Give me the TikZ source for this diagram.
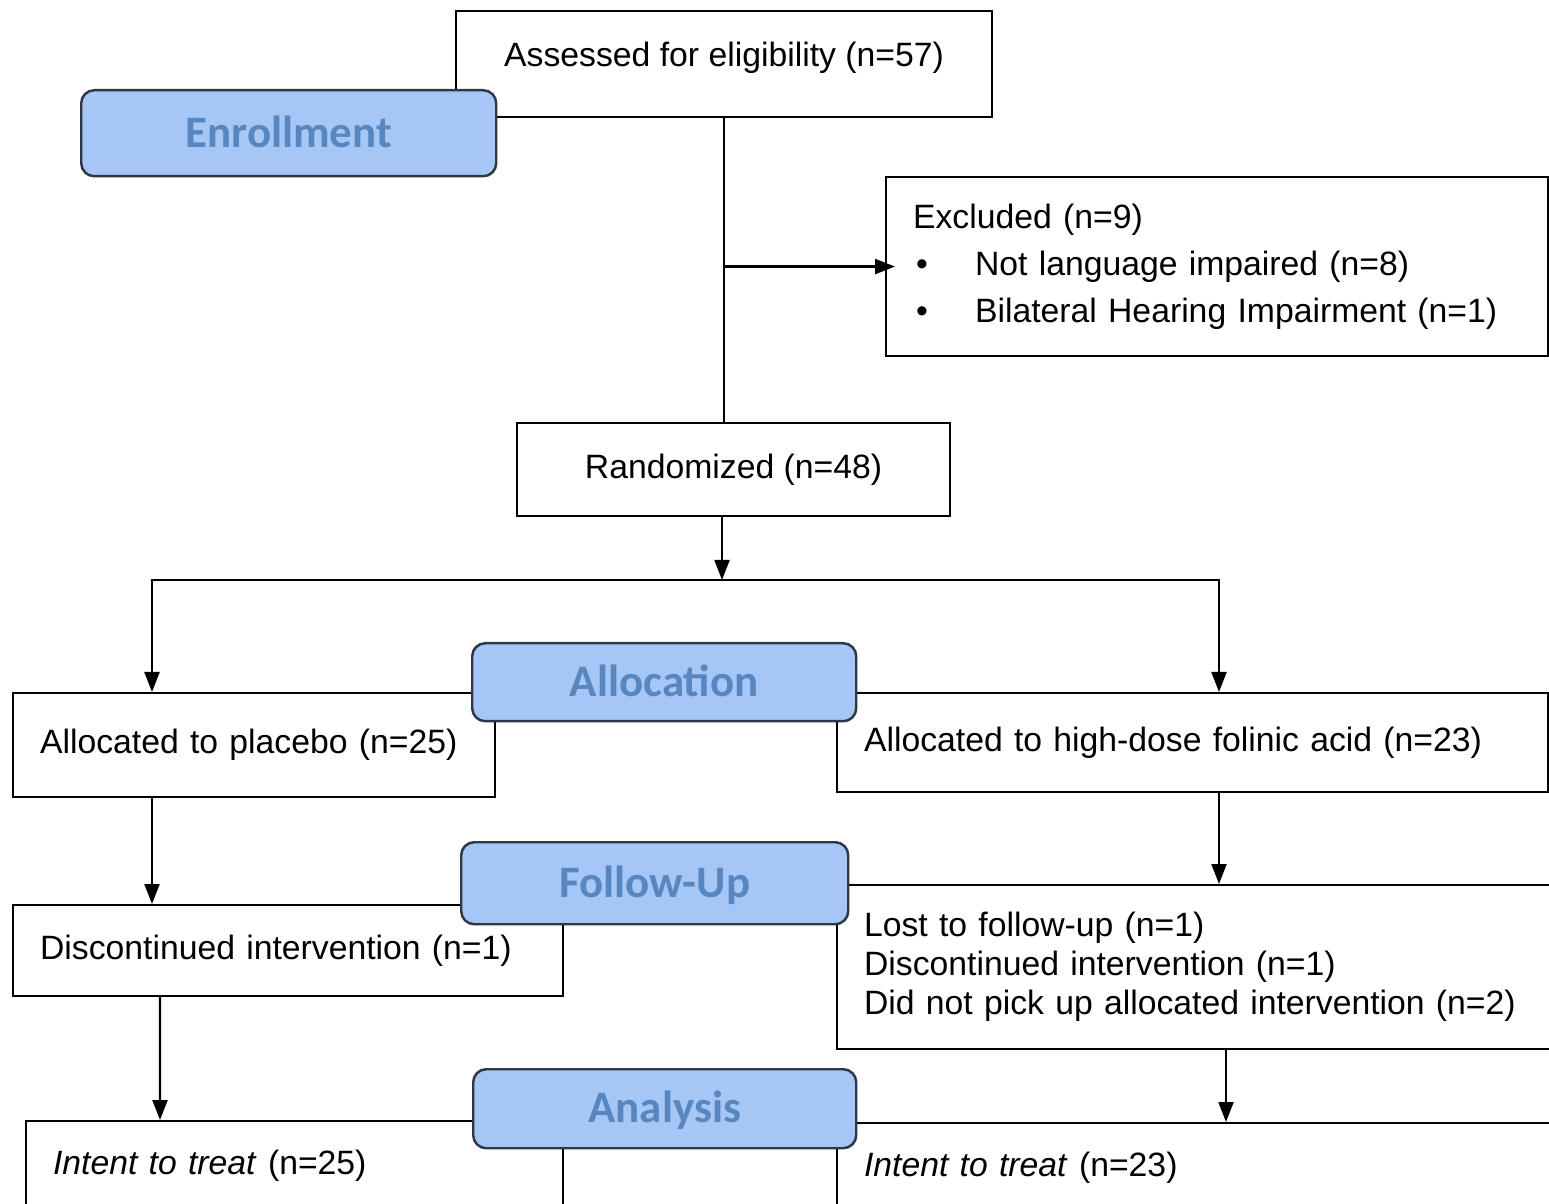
\documentclass[tikz,border=0pt]{standalone}
\usepackage{fontspec}
\setmainfont{Liberation Sans}
\newfontfamily\hdrfont{Carlito}
\usetikzlibrary{arrows.meta,positioning}
\definecolor{hdrfill}{RGB}{166,198,245}
\definecolor{hdrtext}{RGB}{88,134,192}
\definecolor{hdrline}{RGB}{45,55,70}
\newcommand{\bul}{\makebox[0.62cm][l]{\hspace{0.03cm}\textbullet}}

\begin{document}
\begin{tikzpicture}[
    font=\fontsize{9.6pt}{11.6pt}\selectfont,
    box/.style={draw, line width=0.6pt, anchor=north west, inner xsep=0.27cm, align=left},
    hdr/.style={draw=hdrline, line width=0.7pt, fill=hdrfill, rounded corners=0.13cm, anchor=north west,
        text=hdrtext, text height=0.30cm, text depth=0.02cm,
        font=\hdrfont\bfseries\fontsize{12.8pt}{14pt}\selectfont},
    arr/.style={-{Triangle[length=0.2cm,width=0.15cm]}, line width=0.6pt}
]
\clip (0,0) rectangle (15.49,-12.04);

% Enrollment
\node[box, minimum width=5.36cm, minimum height=1.06cm, align=center, text depth=0.2cm] (assess) at (4.55,-0.10) {Assessed for eligibility (n=57)};
\node[box, text width=6.08cm, minimum height=1.79cm, font=\fontsize{9.6pt}{13.4pt}\selectfont] (excl) at (8.85,-1.76)
    {Excluded (n=9)\\\bul Not language impaired (n=8)\\\bul Bilateral Hearing Impairment (n=1)};
\node[box, minimum width=4.33cm, minimum height=0.93cm, align=center] (rand) at (5.16,-4.22) {Randomized (n=48)};

% Allocation
\node[box, text width=4.28cm, minimum height=1.04cm] (placebo) at (0.12,-6.92) {Allocated to placebo (n=25)};
\node[box, text width=6.57cm, minimum height=0.99cm] (folinic) at (8.36,-6.92) {Allocated to high-dose folinic acid (n=23)};

% Follow-up
\node[box, text width=4.96cm, minimum height=0.91cm] (discp) at (0.12,-9.04) {Discontinued intervention (n=1)};
\node[box, text width=6.8cm, minimum height=1.64cm, font=\fontsize{9.6pt}{11.1pt}\selectfont] (lostf) at (8.36,-8.84)
    {Lost to follow-up (n=1)\\Discontinued intervention (n=1)\\Did not pick up allocated intervention (n=2)};

% Analysis
\node[box, text width=4.83cm, minimum height=0.9cm] (ittp) at (0.25,-11.20) {\textit{Intent to treat} (n=25)};
\node[box, text width=6.8cm, minimum height=0.9cm] (ittf) at (8.36,-11.22) {\textit{Intent to treat} (n=23)};

% connectors
\coordinate (split) at (7.22,-5.80);
\draw[line width=0.6pt] (assess.south) -- (assess.south |- rand.north);
\draw[arr] (assess.south |- excl.west) -- ([xshift=0.1cm]excl.west);
\draw[arr] (rand.south -| split) -- (split);
\draw[arr] (split) -| ([xshift=1.40cm]placebo.north west);
\draw[arr] (split) -| ([xshift=3.83cm]folinic.north west);
\draw[arr] ([xshift=1.40cm]placebo.south west) -- ([xshift=1.40cm]discp.north west);
\draw[arr] ([xshift=3.83cm]folinic.south west) -- ([xshift=3.83cm]lostf.north west);
\draw[arr] ([xshift=1.48cm]discp.south west) -- ([xshift=1.35cm]ittp.north west);
\draw[arr] ([xshift=3.90cm]lostf.south west) -- ([xshift=3.90cm]ittf.north west);

% stage headers
\node[hdr, minimum width=4.15cm, minimum height=0.86cm] (enroll) at (0.80,-0.89) {Enrollment};
\node[hdr, minimum width=3.84cm, minimum height=0.78cm] (alloc) at (4.71,-6.42) {Allocation};
\node[hdr, minimum width=3.87cm, minimum height=0.82cm] (follow) at (4.60,-8.41) {Follow-Up};
\node[hdr, minimum width=3.83cm, minimum height=0.79cm] (analys) at (4.72,-10.68) {Analysis};
\end{tikzpicture}
\end{document}
